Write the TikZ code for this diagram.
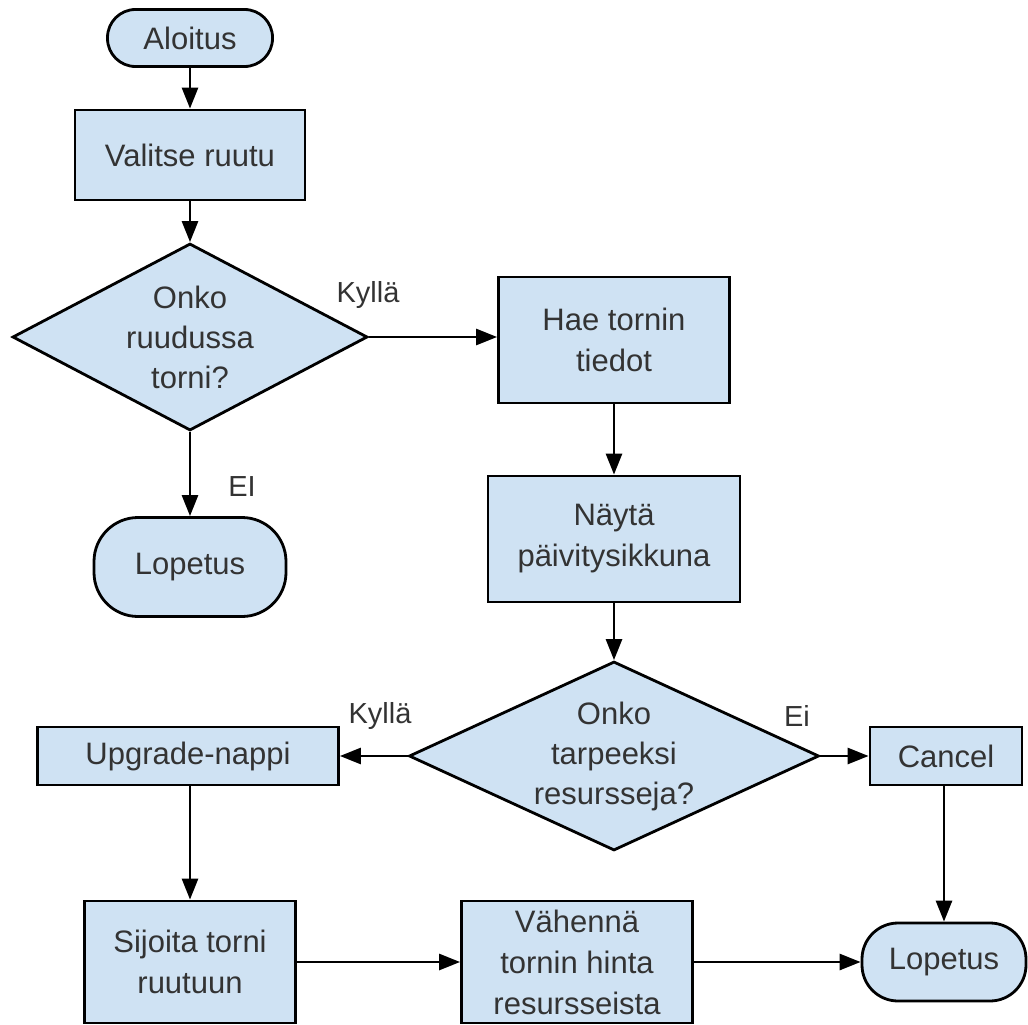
\documentclass[tikz,border=0pt]{standalone}
\usepackage{fontspec}
\setmainfont{Liberation Sans}
\usetikzlibrary{shapes.geometric,arrows.meta}
\definecolor{boxfill}{HTML}{CFE2F3}
\definecolor{txtcol}{HTML}{333333}
\tikzset{
  base/.style={draw=black, line width=2.8pt, fill=boxfill, inner sep=0pt,
    text=txtcol, align=center, font=\fontsize{31}{41}\selectfont},
  box/.style={base, rectangle},
  term/.style={base, rectangle},
  dia/.style={base, diamond, aspect=1.9},
  dtext/.style={text=txtcol, align=center, font=\fontsize{31}{40}\selectfont, inner sep=0pt},
  conn/.style={line width=2.8pt, -{Triangle[length=21pt,width=16pt]}},
  elabel/.style={text=txtcol, font=\fontsize{29}{34}\selectfont, inner sep=0pt}
}
\begin{document}
\begin{tikzpicture}[x=1pt,y=-1pt]
\useasboundingbox (0,0) rectangle (1028,1025);
% nodes
\node[term, rounded corners=28pt, minimum width=165pt, minimum height=57pt] (start) at (190,38) {Aloitus};
\node[box, minimum width=230pt, minimum height=90pt] (valitse) at (190,155) {Valitse ruutu};
\node[dia, minimum width=355pt, minimum height=187pt] (d1) at (190,337) {};
\node[dtext] (d1t) at (d1.center) {Onko\\ruudussa\\torni?};
\node[box, minimum width=231pt, minimum height=126pt] (hae) at (614,340) {Hae tornin\\tiedot};
\node[term, rounded corners=44pt, minimum width=192pt, minimum height=99pt] (lop1) at (190,567) {Lopetus};
\node[box, minimum width=252pt, minimum height=126pt] (nay) at (614,539) {Näytä\\päivitysikkuna};
\node[dia, minimum width=410pt, minimum height=189pt] (d2) at (614,756) {};
\node[dtext] (d2t) at (d2.center) {Onko\\tarpeeksi\\resursseja?};
\node[box, minimum width=301pt, minimum height=58pt] (upg) at (188,756) {Upgrade-nappi};
\node[box, minimum width=152pt, minimum height=58pt] (can) at (946,756) {Cancel};
\node[box, minimum width=211pt, minimum height=122pt] (sij) at (190,962) {Sijoita torni\\ruutuun};
\node[box, minimum width=231pt, minimum height=122pt] (vah) at (577,962) {Vähennä\\tornin hinta\\resursseista};
\node[term, rounded corners=36pt, minimum width=164pt, minimum height=78pt] (lop2) at (944,962) {Lopetus};
% connectors
\draw[conn] (start) -- (valitse);
\draw[conn] (valitse) -- (d1);
\draw[conn] (d1.east) -- (d1.east -| hae.west);
\draw[conn] (d1) -- (lop1);
\draw[conn] (hae) -- (nay);
\draw[conn] (nay) -- (d2);
\draw[conn] (d2.west) -- (upg.east);
\draw[conn] (d2.east) -- (can.west);
\draw[conn] (upg.south -| sij.north) -- (sij.north);
\draw[conn] (can.south -| lop2.north) -- (lop2.north);
\draw[conn] (sij.east) -- (vah.west);
\draw[conn] (vah.east) -- (lop2.west);
% labels
\node[elabel] (l1) at (368,295) {Kyllä};
\node[elabel] (l2) at (242,487) {EI};
\node[elabel] (l3) at (380,716) {Kyllä};
\node[elabel] (l4) at (797,716) {Ei};
\end{tikzpicture}
\end{document}
